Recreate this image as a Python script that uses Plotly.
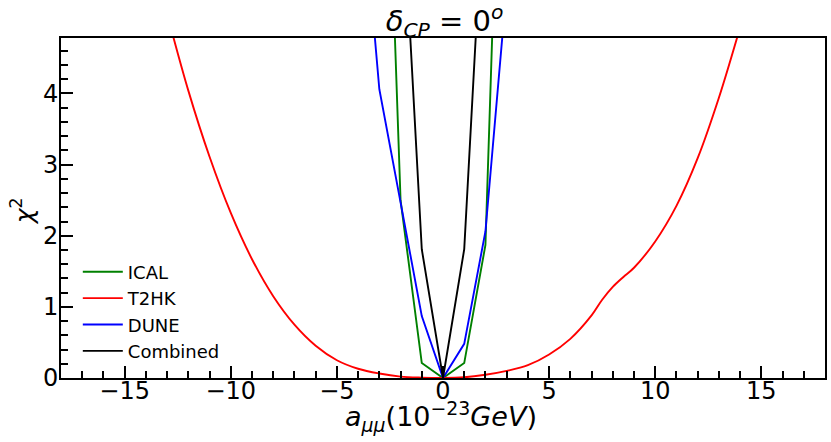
import plotly.graph_objects as go

# ---- data ----
x_ical = [-3, -2, -1, 0, 1, 2, 3]
y_ical = [11.1, 2.5, 0.21, 0.0, 0.21, 1.87, 11.1]

x_dune = [-4, -3, -2, -1, 0, 1, 2, 3]
y_dune = [7.5, 4.06, 2.47, 0.87, 0.0, 0.48, 2.06, 5.5]

x_comb = [-2, -1, 0, 1, 2]
y_comb = [7.3, 1.81, 0.0, 1.81, 7.3]

x_t2hk = [-13, -12, -11, -10, -9, -8, -7, -6, -5, -4, -3, -2, -1, 0,
          1, 2, 3, 4, 5, 6, 7, 7.5, 8, 8.5, 9, 10, 11, 12, 13, 14]
y_t2hk = [5.12, 4.04, 3.11, 2.32, 1.67, 1.15, 0.75, 0.454, 0.25, 0.13, 0.063, 0.02, 0.005, 0.0,
          0.01, 0.045, 0.10, 0.18, 0.33, 0.55, 0.88, 1.10, 1.28, 1.42, 1.55, 1.92, 2.42, 3.09, 3.94, 4.93]

x_ticks = [-15, -10, -5, 0, 5, 10, 15]
y_ticks = [0, 1, 2, 3, 4]

FONT = "DejaVu Sans"
LW = 1.9

fig = go.Figure()
fig.add_trace(go.Scatter(x=x_ical, y=y_ical, mode="lines", name="ICAL",
                         line=dict(color="#008000", width=LW)))
fig.add_trace(go.Scatter(x=x_t2hk, y=y_t2hk, mode="lines", name="T2HK",
                         line=dict(color="#ff0000", width=LW, shape="spline", smoothing=1.0)))
fig.add_trace(go.Scatter(x=x_dune, y=y_dune, mode="lines", name="DUNE",
                         line=dict(color="#0000ff", width=LW)))
fig.add_trace(go.Scatter(x=x_comb, y=y_comb, mode="lines", name="Combined",
                         line=dict(color="#000000", width=LW)))

fig.update_layout(
    width=831, height=442,
    margin=dict(l=61, r=6, t=38, b=64, autoexpand=False),
    paper_bgcolor="white", plot_bgcolor="white",
    font=dict(family=FONT, color="black"),
    title=dict(text="<i>δ</i><sub><i>CP</i></sub> = 0<sup><i>o</i></sup>",
               x=0.535, xanchor="center", y=0.952, yanchor="middle",
               font=dict(size=29, family=FONT)),
    showlegend=True,
    legend=dict(x=0.022, xanchor="left", y=0.025, yanchor="bottom",
                bgcolor="rgba(0,0,0,0)", borderwidth=0,
                font=dict(size=18, family=FONT), itemwidth=40,
                tracegroupgap=0),
    annotations=[
        dict(text="<i>a</i><sub><i>μμ</i></sub>(10<sup>−23</sup><i>GeV</i>)",
             xref="paper", yref="paper", x=0.497, y=-0.113,
             xanchor="center", yanchor="middle", showarrow=False,
             font=dict(size=27, family=FONT)),
        dict(text="<i>χ</i><sup>2</sup>", textangle=-90,
             xref="paper", yref="paper", x=-0.05, y=0.49,
             xanchor="center", yanchor="middle", showarrow=False,
             font=dict(size=25, family=FONT)),
    ],
)

fig.update_xaxes(
    range=[-18, 18], tickvals=x_ticks, ticks="inside", ticklen=12, tickwidth=2,
    tickcolor="black", showline=True, linecolor="black", linewidth=2, mirror=True,
    showgrid=False, zeroline=False, tickfont=dict(size=24, family=FONT), automargin=False,
    ticklabelstandoff=-10,
    minor=dict(dtick=1, ticks="inside", ticklen=7, tickwidth=1.5, tickcolor="black", showgrid=False),
)
fig.update_yaxes(
    range=[0, 4.78], tickvals=y_ticks, ticks="inside", ticklen=12, tickwidth=2,
    tickcolor="black", showline=True, linecolor="black", linewidth=2, mirror=True,
    showgrid=False, zeroline=False, tickfont=dict(size=24, family=FONT), automargin=False,
    ticklabelstandoff=-4,
    minor=dict(dtick=0.2, ticks="inside", ticklen=7, tickwidth=1.5, tickcolor="black", showgrid=False),
)

fig.write_html("out.html", config={"displayModeBar": False},
               post_script="document.body.style.margin='0';")
